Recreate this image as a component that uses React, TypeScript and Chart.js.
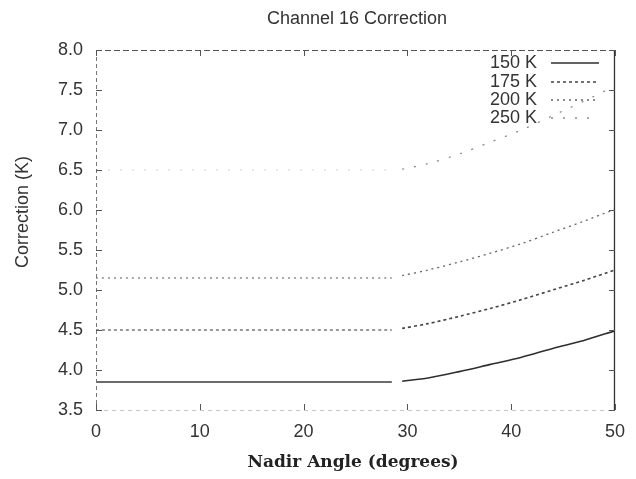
import React, { useEffect, useRef } from "react";
import { Chart, registerables } from "chart.js";

Chart.register(...registerables);

const TITLE = "Channel 16 Correction";
const X_TITLE = "Nadir Angle (degrees)";
const Y_TITLE = "Correction (K)";

const seriesLabels = ["150 K", "175 K", "200 K", "250 K"];

// nadir angles (degrees): flat segment, then rising segment
const anglesFlat = [0, 10, 20, 28.5];
const anglesRise = [29.5, 32, 35, 38, 41, 44, 47, 50];

const flat150 = [3.85, 3.85, 3.85, 3.85];
const rise150 = [3.86, 3.9, 3.98, 4.07, 4.16, 4.27, 4.37, 4.49];

const flat175 = [4.5, 4.5, 4.5, 4.5];
const rise175 = [4.52, 4.58, 4.67, 4.77, 4.88, 5.0, 5.12, 5.25];

const flat200 = [5.15, 5.15, 5.15, 5.15];
const rise200 = [5.18, 5.25, 5.35, 5.46, 5.58, 5.72, 5.86, 6.01];

const flat250 = [6.5, 6.5, 6.5, 6.5];
const rise250 = [6.51, 6.58, 6.7, 6.85, 7.0, 7.18, 7.36, 7.55];

const xTicks = [0, 10, 20, 30, 40, 50];
const yTicks = [3.5, 4.0, 4.5, 5.0, 5.5, 6.0, 6.5, 7.0, 7.5, 8.0];

const styles = [
  { color: "#2e2e2e", flatColor: "#3a3a3a", width: 1.6, dash: [] as number[] },
  { color: "#444444", flatColor: "#777777", width: 1.6, dash: [3, 3] },
  { color: "#666666", flatColor: "#8c8c8c", width: 1.3, dash: [2, 4] },
  { color: "#8a8a8a", flatColor: "#e2e2e2", width: 1.3, dash: [2, 10] },
];

function buildPoints(flat: number[], rise: number[]) {
  const pts: any[] = anglesFlat.map((x, i) => ({ x, y: flat[i] }));
  pts.push({ x: 29, y: null });
  anglesRise.forEach((x, i) => pts.push({ x, y: rise[i] }));
  return pts;
}

const allFlat = [flat150, flat175, flat200, flat250];
const allRise = [rise150, rise175, rise200, rise250];

const SANS = "'Liberation Sans', Arial, Helvetica, sans-serif";

const decorPlugin = {
  id: "decor",
  afterDraw(chart: any) {
    const ctx = chart.ctx;
    const { left, right, top, bottom } = chart.chartArea;
    const xs = chart.scales.x;
    const ys = chart.scales.y;
    ctx.save();

    // frame
    ctx.lineWidth = 1;
    ctx.setLineDash([6, 3]);
    ctx.strokeStyle = "#555";
    ctx.beginPath();
    ctx.moveTo(left, top + 0.5);
    ctx.lineTo(right, top + 0.5);
    ctx.stroke();
    ctx.setLineDash([4, 3]);
    ctx.strokeStyle = "#777";
    ctx.beginPath();
    ctx.moveTo(left + 0.5, top);
    ctx.lineTo(left + 0.5, bottom);
    ctx.stroke();
    ctx.setLineDash([4, 4]);
    ctx.strokeStyle = "#c4c4c4";
    ctx.beginPath();
    ctx.moveTo(left, bottom + 0.5);
    ctx.lineTo(right, bottom + 0.5);
    ctx.stroke();
    ctx.setLineDash([]);
    ctx.strokeStyle = "#333";
    ctx.lineWidth = 1.3;
    ctx.beginPath();
    ctx.moveTo(right - 0.5, top);
    ctx.lineTo(right - 0.5, bottom);
    ctx.stroke();

    // inward ticks
    ctx.lineWidth = 1;
    ctx.strokeStyle = "#555";
    xTicks.forEach((v) => {
      const px = Math.round(xs.getPixelForValue(v)) + 0.5;
      ctx.beginPath();
      ctx.moveTo(px, bottom);
      ctx.lineTo(px, bottom - 6);
      ctx.moveTo(px, top);
      ctx.lineTo(px, top + 6);
      ctx.stroke();
    });
    yTicks.forEach((v) => {
      const py = Math.round(ys.getPixelForValue(v)) + 0.5;
      ctx.beginPath();
      ctx.moveTo(left, py);
      ctx.lineTo(left + 6, py);
      ctx.moveTo(right, py);
      ctx.lineTo(right - 6, py);
      ctx.stroke();
    });

    // title
    ctx.fillStyle = "#333";
    ctx.font = `18px ${SANS}`;
    ctx.textAlign = "center";
    ctx.textBaseline = "middle";
    ctx.fillText(TITLE, 357, 19);

    // y title
    ctx.save();
    ctx.translate(23, 212);
    ctx.rotate(-Math.PI / 2);
    ctx.fillStyle = "#333";
    ctx.font = `18px ${SANS}`;
    ctx.fillText(Y_TITLE, 0, 0);
    ctx.restore();

    // x title
    ctx.fillStyle = "#222";
    ctx.font = `bold 17px 'DejaVu Serif', 'Liberation Serif', serif`;
    ctx.fillText(X_TITLE, 353, 463);

    // legend
    const rows = [63, 82, 100, 118];
    ctx.font = `18px ${SANS}`;
    ctx.textAlign = "right";
    seriesLabels.forEach((lab, i) => {
      const y = rows[i];
      ctx.fillStyle = "#333";
      ctx.fillText(lab, 537, y);
      const st = styles[i];
      ctx.strokeStyle = st.color;
      ctx.lineWidth = st.width;
      ctx.setLineDash(st.dash);
      ctx.beginPath();
      ctx.moveTo(551, y);
      ctx.lineTo(599, y);
      ctx.stroke();
      ctx.setLineDash([]);
    });

    ctx.restore();
  },
};

export default function App() {
  const ref = useRef<HTMLCanvasElement | null>(null);

  useEffect(() => {
    document.body.style.margin = "0";
    const canvas = ref.current;
    if (!canvas) return;
    const datasets = seriesLabels.map((label, i) => ({
      label,
      data: buildPoints(allFlat[i], allRise[i]),
      borderColor: styles[i].color,
      borderWidth: styles[i].width,
      borderDash: styles[i].dash,
      segment: {
        borderColor: (c: any) => (c.p0.parsed.x < 29 ? styles[i].flatColor : styles[i].color),
      },
      pointRadius: 0,
      fill: false,
      tension: 0.3,
      spanGaps: false,
    }));

    const chart = new Chart(canvas, {
      type: "line",
      data: { datasets },
      plugins: [decorPlugin],
      options: {
        responsive: false,
        animation: false,
        layout: { padding: { left: 0, right: 13, top: 50, bottom: 0 } },
        plugins: {
          legend: { display: false },
          title: { display: false },
          tooltip: { enabled: false },
        },
        scales: {
          x: {
            type: "linear",
            min: 0,
            max: 50,
            afterBuildTicks: (s: any) => {
              s.ticks = xTicks.map((v) => ({ value: v }));
            },
            afterFit: (s: any) => {
              s.height = 69;
            },
            grid: { display: false, drawTicks: false, tickLength: 0 },
            border: { display: false },
            ticks: {
              padding: 11,
              color: "#333",
              font: { family: SANS, size: 18 },
              maxRotation: 0,
              autoSkip: false,
            },
          },
          y: {
            type: "linear",
            min: 3.5,
            max: 8,
            afterBuildTicks: (s: any) => {
              s.ticks = yTicks.map((v) => ({ value: v }));
            },
            afterFit: (s: any) => {
              s.width = 96;
            },
            grid: { display: false, drawTicks: false, tickLength: 0 },
            border: { display: false },
            ticks: {
              padding: 13,
              color: "#333",
              font: { family: SANS, size: 18 },
              autoSkip: false,
              callback: (v: any) => Number(v).toFixed(1),
            },
          },
        },
      },
    } as any);
    return () => chart.destroy();
  }, []);

  return (
    <div style={{ position: "absolute", left: 0, top: 0, width: 636, height: 479, background: "#fff" }}>
      <canvas ref={ref} width={636} height={479} />
    </div>
  );
}
